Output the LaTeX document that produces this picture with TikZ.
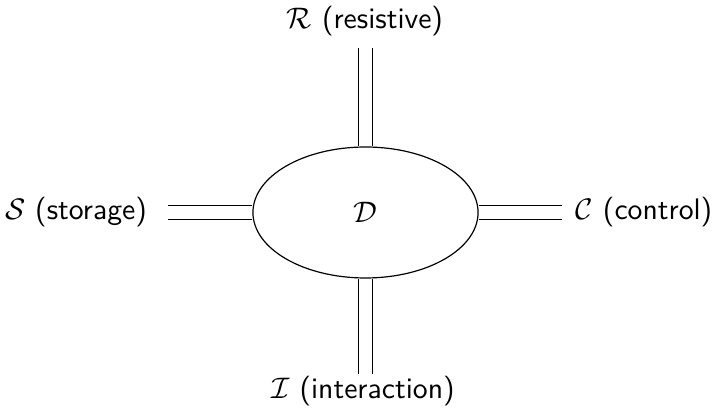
\documentclass[tikz,border=0pt]{standalone}
\usetikzlibrary{shapes.geometric}
\begin{document}
\begin{tikzpicture}[x=0.3367pt,y=-0.3367pt,
  pair/.style={double, double distance=4.3pt, line width=0.4pt},
  lbl/.style={font=\sffamily, inner sep=0pt}]
\useasboundingbox (0,0) rectangle (715,414);
\node[draw, ellipse, line width=0.4pt, minimum width=75.8pt, minimum height=44.1pt, inner sep=0pt] (D) at (365.5,212.5) {$\mathcal{D}$};
\coordinate (tR) at (365.5,48);
\coordinate (tI) at (365.5,374);
\coordinate (tS) at (168,212.5);
\coordinate (tC) at (562,212.5);
\draw[pair] (D.north) -- (tR);
\draw[pair] (D.south) -- (tI);
\draw[pair] (D.west) -- (tS);
\draw[pair] (D.east) -- (tC);
\node[lbl] (R) at (365,21) {$\mathcal{R}$ (resistive)};
\node[lbl] (I) at (363,391) {$\mathcal{I}$ (interaction)};
\node[lbl] (S) at (76,212) {$\mathcal{S}$ (storage)};
\node[lbl] (C) at (644,212) {$\mathcal{C}$ (control)};
\end{tikzpicture}
\end{document}
